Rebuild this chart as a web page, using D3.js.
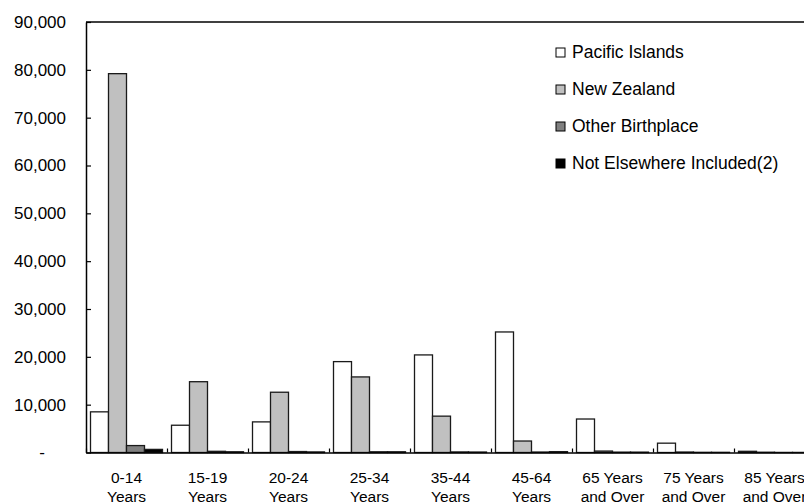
<!DOCTYPE html>
<html>
<head>
<meta charset="utf-8">
<script src="https://cdn.jsdelivr.net/npm/d3@7"></script>
<style>
  html, body { margin: 0; padding: 0; background: #fff; }
  svg { display: block; overflow: hidden; }
  text { font-family: "Liberation Sans", Arial, sans-serif; fill: #000; }
</style>
</head>
<body>
<svg id="chart" width="804" height="504"></svg>
<script>
// Age groups (each label is split over two lines)
const categories = [
  ["0-14", "Years"], ["15-19", "Years"], ["20-24", "Years"], ["25-34", "Years"],
  ["35-44", "Years"], ["45-64", "Years"], ["65 Years", "and Over"],
  ["75 Years", "and Over"], ["85 Years", "and Over"]
];
const seriesNames = ["Pacific Islands", "New Zealand", "Other Birthplace", "Not Elsewhere Included(2)"];
const seriesColors = ["#ffffff", "#c0c0c0", "#808080", "#000000"];

// Persons by birthplace, per age group
const pacificIslands = [8500, 5700, 6400, 19000, 20400, 25200, 7000, 1950, 250];
const newZealand     = [79200, 14800, 12600, 15800, 7600, 2400, 300, 100, 60];
const otherBirth     = [1450, 250, 200, 150, 120, 100, 80, 40, 20];
const notElsewhere   = [650, 150, 120, 150, 100, 180, 80, 40, 20];

const yTicks = [0, 10000, 20000, 30000, 40000, 50000, 60000, 70000, 80000, 90000];

const seriesValues = [pacificIslands, newZealand, otherBirth, notElsewhere];
const catKeys = categories.map(c => c.join(" "));
const rows = catKeys.map((k, i) => ({
  key: k,
  values: seriesNames.map((s, j) => ({ series: s, color: seriesColors[j], value: seriesValues[j][i] }))
}));

const svg = d3.select("#chart");
const plotLeft = 86, plotRight = 815, plotTop = 22, plotBottom = 452.5;

const x0 = d3.scaleBand().domain(catKeys).range([plotLeft, plotRight]).paddingInner(0).paddingOuter(0);
const x1 = d3.scaleBand().domain(seriesNames).range([0, x0.bandwidth()]).paddingInner(0).paddingOuter(0.25);
const y = d3.scaleLinear().domain([0, 90000]).range([plotBottom, plotTop]);

// Bars
const groups = svg.append("g").selectAll("g").data(rows).join("g")
  .attr("transform", d => `translate(${x0(d.key)},0)`);
groups.selectAll("rect").data(d => d.values).join("rect")
  .attr("x", d => x1(d.series))
  .attr("width", x1.bandwidth())
  .attr("y", d => y(d.value))
  .attr("height", d => y(0) - y(d.value))
  .attr("fill", d => d.color)
  .attr("stroke", "#1a1a1a")
  .attr("stroke-width", 1.3);

// Top frame line
svg.append("line")
  .attr("x1", plotLeft).attr("x2", plotRight).attr("y1", plotTop).attr("y2", plotTop)
  .attr("stroke", "#000").attr("stroke-width", 1.5);

// Y axis
const yAxis = svg.append("g").attr("transform", `translate(${plotLeft},0)`)
  .call(d3.axisLeft(y).tickValues(yTicks).tickSizeInner(-5).tickSizeOuter(0).tickPadding(20)
    .tickFormat(d => d === 0 ? "-" : d3.format(",")(d)));
yAxis.select(".domain").attr("stroke", "#000").attr("stroke-width", 1.5);
yAxis.selectAll(".tick line").attr("stroke", "#000").attr("stroke-width", 1.2);
yAxis.selectAll(".tick text")
  .style("font-size", "17px")
  .attr("dx", d => d === 0 ? -21 : 0);

// X axis: boundary ticks between groups
const xb = d3.scaleLinear().domain([0, catKeys.length]).range([plotLeft, plotRight]);
const xTickAxis = svg.append("g").attr("transform", `translate(0,${plotBottom})`)
  .call(d3.axisBottom(xb).tickValues(d3.range(catKeys.length + 1)).tickSizeInner(-4).tickSizeOuter(0).tickFormat(""));
xTickAxis.select(".domain").attr("stroke", "#000").attr("stroke-width", 1.5);
xTickAxis.selectAll(".tick line").attr("stroke", "#000").attr("stroke-width", 1.2);

// X axis labels, two lines each
const xLab = svg.append("g").attr("transform", `translate(0,${plotBottom})`)
  .call(d3.axisBottom(x0).tickSize(0).tickPadding(0));
xLab.select(".domain").remove();
xLab.selectAll(".tick text").each(function(d, i) {
  const t = d3.select(this).text(null).attr("y", 0).attr("dy", null).style("font-size", "15.5px");
  categories[i].forEach((line, k) => {
    t.append("tspan").attr("x", 0).attr("y", 30 + k * 19).text(line);
  });
});

// Legend
const legend = svg.append("g").attr("transform", "translate(556,0)");
const legendRows = legend.selectAll("g").data(seriesNames).join("g")
  .attr("transform", (d, i) => `translate(0,${52.5 + i * 37})`);
legendRows.append("rect")
  .attr("x", 0).attr("y", -4.5).attr("width", 9).attr("height", 9)
  .attr("fill", (d, i) => seriesColors[i])
  .attr("stroke", "#000").attr("stroke-width", 1);
legendRows.append("text")
  .attr("x", 16).attr("y", 5)
  .style("font-size", "17.5px")
  .text(d => d);
</script>
</body>
</html>
